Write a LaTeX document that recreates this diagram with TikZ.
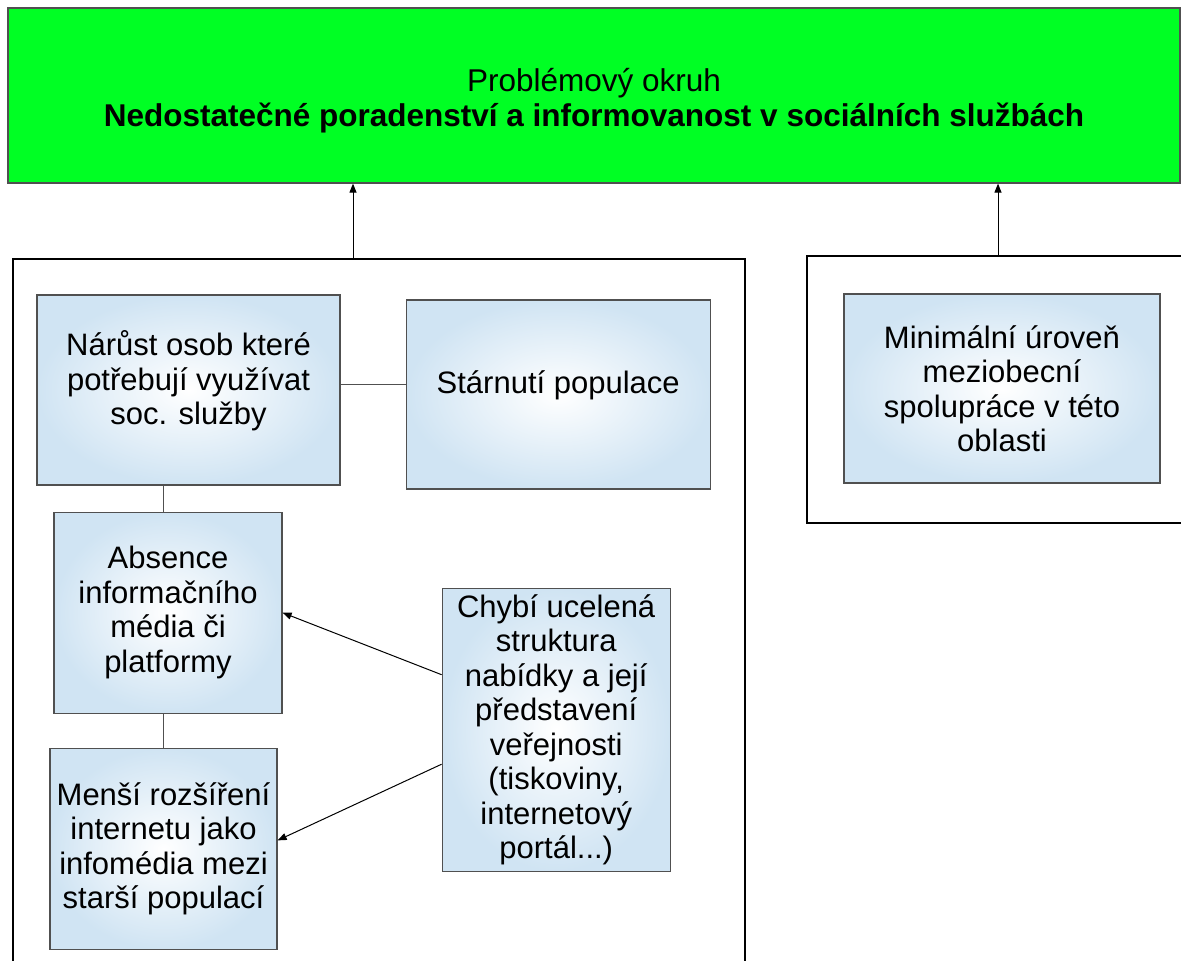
\documentclass[tikz,border=0pt]{standalone}
\usepackage{fontspec}
\setmainfont{Liberation Sans}
\usetikzlibrary{arrows.meta,positioning}
\definecolor{probgreen}{RGB}{0,255,36}
\definecolor{boxblue}{RGB}{208,228,243}
\definecolor{edgegray}{RGB}{80,80,80}
\newcommand{\boxfont}{\fontsize{31}{34.5}\selectfont}
\newcommand{\titlefont}{\fontsize{31.5}{35.5}\selectfont}
\newcommand{\lowered}[1]{\raisebox{-5pt}[\height][\depth]{#1}}

\begin{document}
\begin{tikzpicture}[x=1pt, y=-1pt,
      every node/.style={font=\boxfont},
      cause/.style={draw=edgegray, line width=1.2pt, inner sep=0pt, align=center,
                    inner color=white, outer color=boxblue},
      group/.style={draw=black, line width=2pt, inner sep=0pt},
      link/.style={draw=edgegray, line width=1pt},
      arrow/.style={-{Triangle[length=9pt,width=7pt]}, line width=1pt}
    ]
    \useasboundingbox (0,0) rectangle (1181,961);

    \node[draw=edgegray, line width=1.2pt, fill=probgreen, align=center, font=\titlefont,
          minimum width=1172pt, minimum height=175pt] (problem) at (594,95.5)
      {\lowered{Problémový okruh}\\
       \lowered{\textbf{Nedostatečné poradenství a informovanost v sociálních službách}}};

    % the two groups of causes
    \node[group, anchor=north west, minimum width=732pt, minimum height=740pt] (leftgrp)  at (12,258) {};
    \node[group, anchor=north west, minimum width=382pt, minimum height=267pt] (rightgrp) at (806,255) {};

    \node[cause, minimum width=303pt, minimum height=190pt] (narust) at (188.5,390)
      {Nárůst osob které\\potřebují využívat\\soc. služby\\[-10pt]\mbox{}};
    \node[cause, right=65pt of narust, yshift=-4.5pt, minimum width=304pt, minimum height=189pt]
      (starnuti) {Stárnutí populace\\[-10pt]\mbox{}};
    \node[cause, below=26pt of narust, xshift=-20.5pt, minimum width=228pt, minimum height=201pt]
      (absence) {Absence\\informačního\\média či\\platformy};
    \node[cause, below=34pt of absence, xshift=-4.5pt, minimum width=227pt, minimum height=201pt]
      (mensi) {Menší rozšíření\\internetu jako\\infomédia mezi\\starší populací};
    \node[cause, below=98pt of starnuti, xshift=-2pt, minimum width=228pt, minimum height=283pt]
      (chybi) {Chybí ucelená\\struktura\\nabídky a její\\představení\\veřejnosti\\(tiskoviny,\\internetový\\portál...)};
    \node[cause, minimum width=316pt, minimum height=189pt] (minimal) at (1002,388.5)
      {Minimální úroveň\\meziobecní\\spolupráce v této\\oblasti};

    \draw[link] ([yshift=6pt]narust.east) -- ([yshift=6pt]narust.east -| starnuti.west);
    \draw[link] ([xshift=-5pt]absence.north) -- ([xshift=-5pt]absence.north |- narust.south);
    \draw[link] (mensi.north) -- (mensi.north |- absence.south);

    \draw[arrow] ([yshift=55pt]chybi.west) -- (absence.east);
    \draw[arrow] ([yshift=-34.5pt]chybi.west) -- ([yshift=8.5pt]mensi.east);

    \draw[arrow] ([xshift=-26pt]leftgrp.north) -- ([xshift=-26pt]leftgrp.north |- problem.south);
    \draw[arrow] (rightgrp.north) -- (rightgrp.north |- problem.south);
  \end{tikzpicture}
\end{document}
